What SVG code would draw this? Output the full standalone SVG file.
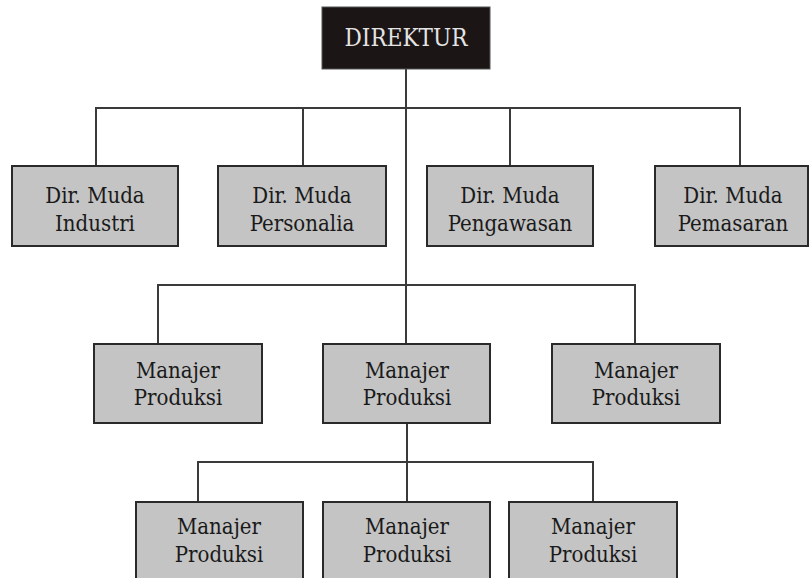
<svg xmlns="http://www.w3.org/2000/svg" width="809" height="578" viewBox="0 0 809 578">
<style>
.box{fill:#c4c4c4;stroke:#2a2a2a;stroke-width:2}
.top{fill:#1b1515;stroke:#555;stroke-width:1}
.t{fill:#1a1a1a}
.tw{fill:#e4e4e4;font-size:24px}
.c{fill:none;stroke:#3a3a3a;stroke-width:2}
</style>
<rect width="809" height="578" fill="#fff"/>
<g id="connectors">
<path class="c" d="M406 69V344"/>
<path class="c" d="M96 166V108H740V166"/>
<path class="c" d="M303 108V166M510 108V166"/>
<path class="c" d="M158 344V285H635V344"/>
<path class="c" d="M407 423V502"/>
<path class="c" d="M198 502V462H593V502"/>
</g>
<g font-family="DejaVu Serif Condensed, DejaVu Serif, serif" font-size="22" text-anchor="middle">
<g id="direktur">
<rect class="top" x="322" y="7" width="168" height="62"/>
<text class="tw" x="406" y="46">DIREKTUR</text>
</g>
<g id="dm-industri">
<rect class="box" x="12" y="166" width="166" height="80"/>
<text class="t" x="95" y="203">Dir. Muda</text>
<text class="t" x="95" y="231">Industri</text>
</g>
<g id="dm-personalia">
<rect class="box" x="218" y="166" width="168" height="80"/>
<text class="t" x="302" y="203">Dir. Muda</text>
<text class="t" x="302" y="231">Personalia</text>
</g>
<g id="dm-pengawasan">
<rect class="box" x="427" y="166" width="166" height="80"/>
<text class="t" x="510" y="203">Dir. Muda</text>
<text class="t" x="510" y="231">Pengawasan</text>
</g>
<g id="dm-pemasaran">
<rect class="box" x="655" y="166" width="153" height="80"/>
<text class="t" x="733" y="203">Dir. Muda</text>
<text class="t" x="733" y="231">Pemasaran</text>
</g>
<g id="mp-2a">
<rect class="box" x="94" y="344" width="168" height="79"/>
<text class="t" x="178" y="378">Manajer</text>
<text class="t" x="178" y="405">Produksi</text>
</g>
<g id="mp-2b">
<rect class="box" x="323" y="344" width="167" height="79"/>
<text class="t" x="407" y="378">Manajer</text>
<text class="t" x="407" y="405">Produksi</text>
</g>
<g id="mp-2c">
<rect class="box" x="552" y="344" width="168" height="79"/>
<text class="t" x="636" y="378">Manajer</text>
<text class="t" x="636" y="405">Produksi</text>
</g>
<g id="mp-3a">
<rect class="box" x="136" y="502" width="167" height="90"/>
<text class="t" x="219" y="534">Manajer</text>
<text class="t" x="219" y="562">Produksi</text>
</g>
<g id="mp-3b">
<rect class="box" x="323" y="502" width="167" height="90"/>
<text class="t" x="407" y="534">Manajer</text>
<text class="t" x="407" y="562">Produksi</text>
</g>
<g id="mp-3c">
<rect class="box" x="509" y="502" width="168" height="90"/>
<text class="t" x="593" y="534">Manajer</text>
<text class="t" x="593" y="562">Produksi</text>
</g>
</g>
</svg>
